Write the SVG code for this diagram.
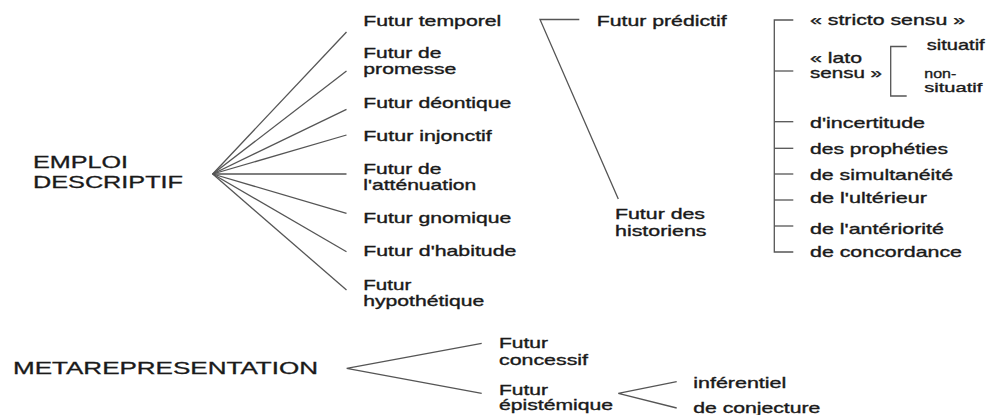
<svg xmlns="http://www.w3.org/2000/svg" width="991" height="415" viewBox="0 0 991 415">
<style>
text{font-family:"Liberation Sans",Arial,sans-serif;font-size:14.5px;fill:#1a1a1a;stroke:#1a1a1a;stroke-width:0.35px;}
.big{font-size:16.5px;stroke-width:0.3px;}
.sm{font-size:13.5px;}
.c line,.c path{stroke:#555;stroke-width:1.3;fill:none;}
</style>
<rect width="991" height="415" fill="#fff"/>
<g class="c" id="connectors">
<line x1="212.7" y1="174" x2="346.5" y2="32"/>
<line x1="212.7" y1="174" x2="346.5" y2="71"/>
<line x1="212.7" y1="174" x2="346.5" y2="109.3"/>
<line x1="212.7" y1="174" x2="346.5" y2="135"/>
<line x1="212.7" y1="174" x2="346.5" y2="174"/>
<line x1="212.7" y1="174" x2="346.5" y2="213.3"/>
<line x1="212.7" y1="174" x2="346.5" y2="251.7"/>
<line x1="212.7" y1="174" x2="346.5" y2="290"/>
<path d="M579.3,19.5 H540 L618.3,199"/>
<path d="M793.3,20 H774.3 V252 H793.3"/>
<line x1="774.3" y1="71" x2="793.3" y2="71"/>
<line x1="774.3" y1="121.7" x2="793.3" y2="121.7"/>
<line x1="774.3" y1="148.3" x2="793.3" y2="148.3"/>
<line x1="774.3" y1="174" x2="793.3" y2="174"/>
<line x1="774.3" y1="200" x2="793.3" y2="200"/>
<line x1="774.3" y1="226" x2="793.3" y2="226"/>
<path d="M906.7,46.5 H890.7 V96 H906.7"/>
<path d="M481.7,343.3 L346.7,368.3 L481.7,393.3"/>
<path d="M676.7,381.7 L618.3,393.3 L676.7,408"/>
</g>
<g id="emploi"><text class="big" x="33" y="168" textLength="95" lengthAdjust="spacingAndGlyphs">EMPLOI</text><text class="big" x="33" y="188" textLength="150" lengthAdjust="spacingAndGlyphs">DESCRIPTIF</text></g>
<g id="meta"><text class="big" x="13" y="374" textLength="305" lengthAdjust="spacingAndGlyphs">METAREPRESENTATION</text></g>
<g id="temporel"><text x="363.3" y="25.5" textLength="138" lengthAdjust="spacingAndGlyphs">Futur temporel</text></g>
<g id="promesse"><text x="363.3" y="58.3" textLength="78" lengthAdjust="spacingAndGlyphs">Futur de</text><text x="363.3" y="74" textLength="93" lengthAdjust="spacingAndGlyphs">promesse</text></g>
<g id="deontique"><text x="363.3" y="108" textLength="148" lengthAdjust="spacingAndGlyphs">Futur déontique</text></g>
<g id="injonctif"><text x="363.3" y="140.7" textLength="128.5" lengthAdjust="spacingAndGlyphs">Futur injonctif</text></g>
<g id="attenuation"><text x="363.3" y="174" textLength="78" lengthAdjust="spacingAndGlyphs">Futur de</text><text x="363.3" y="190" textLength="113" lengthAdjust="spacingAndGlyphs">l'atténuation</text></g>
<g id="gnomique"><text x="363.3" y="223.3" textLength="148" lengthAdjust="spacingAndGlyphs">Futur gnomique</text></g>
<g id="habitude"><text x="363.3" y="256" textLength="153" lengthAdjust="spacingAndGlyphs">Futur d'habitude</text></g>
<g id="hypothetique"><text x="363.3" y="290" textLength="48" lengthAdjust="spacingAndGlyphs">Futur</text><text x="363.3" y="306" textLength="121" lengthAdjust="spacingAndGlyphs">hypothétique</text></g>
<g id="predictif"><text x="596.7" y="25.5" textLength="130" lengthAdjust="spacingAndGlyphs">Futur prédictif</text></g>
<g id="historiens"><text x="615" y="219" textLength="90" lengthAdjust="spacingAndGlyphs">Futur des</text><text x="615" y="235.5" textLength="91.5" lengthAdjust="spacingAndGlyphs">historiens</text></g>
<g id="stricto"><text x="810" y="25" textLength="155" lengthAdjust="spacingAndGlyphs">« stricto sensu »</text></g>
<g id="lato"><text x="810" y="63.3" textLength="52" lengthAdjust="spacingAndGlyphs">« lato</text><text x="810" y="78.3" textLength="72" lengthAdjust="spacingAndGlyphs">sensu »</text></g>
<g id="situatif"><text x="926.7" y="50" textLength="58" lengthAdjust="spacingAndGlyphs">situatif</text></g>
<g id="nonsituatif"><text class="sm" x="924.3" y="77.5" textLength="32" lengthAdjust="spacingAndGlyphs">non-</text><text class="sm" x="924.3" y="92" textLength="58" lengthAdjust="spacingAndGlyphs">situatif</text></g>
<g id="incertitude"><text x="810" y="128.3" textLength="115" lengthAdjust="spacingAndGlyphs">d'incertitude</text></g>
<g id="propheties"><text x="810" y="154" textLength="138" lengthAdjust="spacingAndGlyphs">des prophéties</text></g>
<g id="simultaneite"><text x="810" y="180" textLength="143" lengthAdjust="spacingAndGlyphs">de simultanéité</text></g>
<g id="ulterieur"><text x="810" y="203.3" textLength="117" lengthAdjust="spacingAndGlyphs">de l'ultérieur</text></g>
<g id="anteriorite"><text x="810" y="234.3" textLength="134" lengthAdjust="spacingAndGlyphs">de l'antériorité</text></g>
<g id="concordance"><text x="810" y="257" textLength="152" lengthAdjust="spacingAndGlyphs">de concordance</text></g>
<g id="concessif"><text x="499" y="348.3" textLength="49" lengthAdjust="spacingAndGlyphs">Futur</text><text x="499" y="365" textLength="89" lengthAdjust="spacingAndGlyphs">concessif</text></g>
<g id="epistemique"><text x="499" y="395" textLength="49" lengthAdjust="spacingAndGlyphs">Futur</text><text x="499" y="410" textLength="114" lengthAdjust="spacingAndGlyphs">épistémique</text></g>
<g id="inferentiel"><text x="693.3" y="387.7" textLength="93" lengthAdjust="spacingAndGlyphs">inférentiel</text></g>
<g id="conjecture"><text x="693.3" y="413" textLength="127" lengthAdjust="spacingAndGlyphs">de conjecture</text></g>
</svg>
